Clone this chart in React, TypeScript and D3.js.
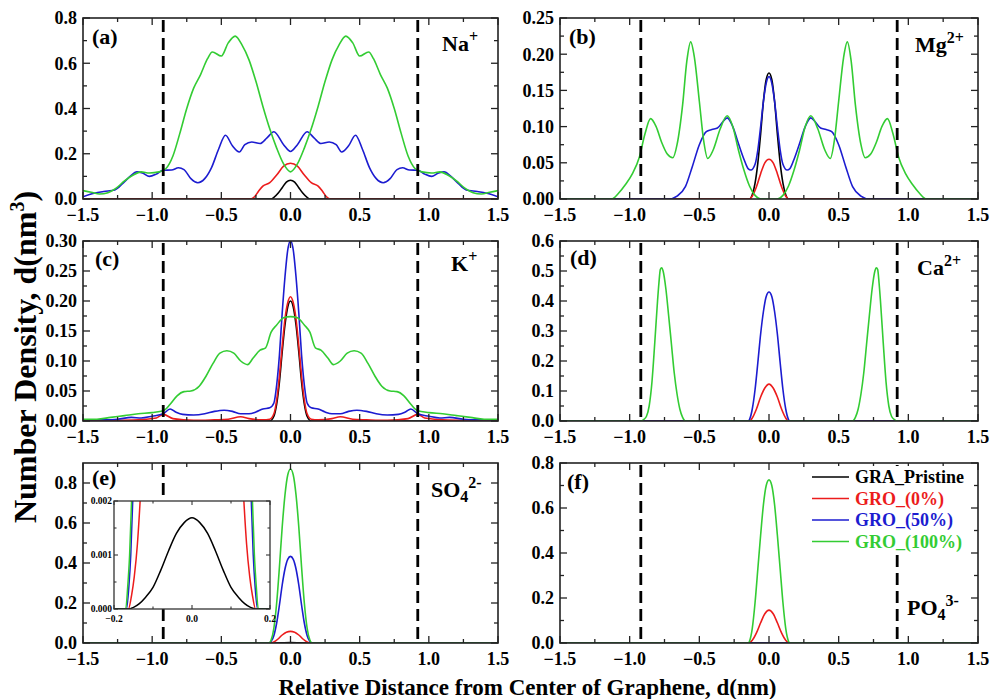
import React from "react";
import * as d3 from "d3";

type Pt = [number, number];

// ---------- shared axis values ----------
const X_MAJOR = [-1.5, -1, -0.5, 0, 0.5, 1, 1.5];
const X_MINOR = [-1.25, -0.75, -0.25, 0.25, 0.75, 1.25];
const DASHED_X = [-0.92, 0.92];
const SERIES_NAMES = ["GRA_Pristine", "GRO_(0%)", "GRO_(50%)", "GRO_(100%)"];
const SERIES_COLORS = ["#000000", "#ec1c1c", "#1c1cd0", "#33cc33"];

// ---------- (a) Na+ ----------
const naYTicks = [0, 0.2, 0.4, 0.6, 0.8];
const naBlack: Pt[] = [[-1.5, 0], [-0.14, 0], [-0.12, 0.007], [-0.09, 0.025], [-0.06, 0.05], [-0.03, 0.075], [0, 0.083], [0.03, 0.075], [0.06, 0.05], [0.09, 0.025], [0.12, 0.007], [0.14, 0], [1.5, 0]];
const naRed: Pt[] = [[-1.5, 0], [-0.29, 0], [-0.26, 0.01], [-0.23, 0.035], [-0.2, 0.057], [-0.15, 0.072], [-0.1, 0.106], [-0.05, 0.145], [0, 0.158], [0.05, 0.145], [0.1, 0.106], [0.15, 0.072], [0.2, 0.057], [0.23, 0.035], [0.26, 0.01], [0.29, 0], [1.5, 0]];
const naBlue: Pt[] = [[-1.5, 0.01], [-1.42, 0.025], [-1.35, 0.033], [-1.27, 0.04], [-1.21, 0.07], [-1.16, 0.1], [-1.11, 0.12], [-1.07, 0.115], [-1.02, 0.1], [-0.97, 0.11], [-0.92, 0.127], [-0.86, 0.128], [-0.81, 0.138], [-0.77, 0.13], [-0.72, 0.09], [-0.67, 0.072], [-0.62, 0.09], [-0.57, 0.14], [-0.52, 0.22], [-0.47, 0.282], [-0.42, 0.235], [-0.37, 0.208], [-0.33, 0.24], [-0.28, 0.252], [-0.22, 0.245], [-0.17, 0.27], [-0.12, 0.297], [-0.05, 0.24], [0, 0.21], [0.05, 0.24], [0.12, 0.297], [0.17, 0.27], [0.22, 0.245], [0.28, 0.252], [0.33, 0.24], [0.37, 0.208], [0.42, 0.235], [0.47, 0.282], [0.52, 0.22], [0.57, 0.14], [0.62, 0.09], [0.67, 0.072], [0.72, 0.09], [0.77, 0.13], [0.81, 0.138], [0.86, 0.128], [0.92, 0.127], [0.97, 0.11], [1.02, 0.1], [1.07, 0.115], [1.11, 0.12], [1.16, 0.1], [1.21, 0.07], [1.27, 0.04], [1.35, 0.033], [1.42, 0.025], [1.5, 0.01]];
const naGreen: Pt[] = [[-1.5, 0.037], [-1.44, 0.03], [-1.38, 0.022], [-1.32, 0.028], [-1.26, 0.048], [-1.2, 0.08], [-1.14, 0.105], [-1.08, 0.12], [-1.02, 0.115], [-0.95, 0.12], [-0.9, 0.135], [-0.85, 0.19], [-0.8, 0.29], [-0.75, 0.4], [-0.7, 0.49], [-0.65, 0.55], [-0.6, 0.62], [-0.565, 0.65], [-0.5, 0.632], [-0.45, 0.69], [-0.4, 0.72], [-0.35, 0.68], [-0.3, 0.615], [-0.25, 0.52], [-0.2, 0.41], [-0.15, 0.31], [-0.1, 0.225], [-0.05, 0.155], [0, 0.12], [0.05, 0.155], [0.1, 0.225], [0.15, 0.31], [0.2, 0.41], [0.25, 0.52], [0.3, 0.615], [0.35, 0.68], [0.4, 0.72], [0.45, 0.69], [0.5, 0.632], [0.565, 0.65], [0.6, 0.62], [0.65, 0.55], [0.7, 0.49], [0.75, 0.4], [0.8, 0.29], [0.85, 0.19], [0.9, 0.135], [0.95, 0.12], [1.02, 0.115], [1.08, 0.12], [1.14, 0.105], [1.2, 0.08], [1.26, 0.048], [1.32, 0.028], [1.38, 0.022], [1.44, 0.03], [1.5, 0.037]];

// ---------- (b) Mg2+ ----------
const mgYTicks = [0, 0.05, 0.1, 0.15, 0.2, 0.25];
const mgBlack: Pt[] = [[-1.5, 0], [-0.14, 0], [-0.12, 0.006], [-0.1, 0.022], [-0.08, 0.05], [-0.06, 0.09], [-0.04, 0.135], [-0.02, 0.165], [0, 0.174], [0.02, 0.165], [0.04, 0.135], [0.06, 0.09], [0.08, 0.05], [0.1, 0.022], [0.12, 0.006], [0.14, 0], [1.5, 0]];
const mgRed: Pt[] = [[-1.5, 0], [-0.14, 0], [-0.12, 0.004], [-0.09, 0.017], [-0.06, 0.035], [-0.03, 0.05], [0, 0.055], [0.03, 0.05], [0.06, 0.035], [0.09, 0.017], [0.12, 0.004], [0.14, 0], [1.5, 0]];
const mgBlue: Pt[] = [[-1.5, 0], [-0.72, 0], [-0.66, 0.004], [-0.6, 0.017], [-0.55, 0.045], [-0.5, 0.075], [-0.45, 0.093], [-0.41, 0.096], [-0.37, 0.098], [-0.33, 0.107], [-0.3, 0.112], [-0.26, 0.1], [-0.22, 0.077], [-0.18, 0.055], [-0.15, 0.042], [-0.13, 0.04], [-0.1, 0.048], [-0.08, 0.068], [-0.06, 0.1], [-0.04, 0.135], [-0.02, 0.16], [0, 0.169], [0.02, 0.16], [0.04, 0.135], [0.06, 0.1], [0.08, 0.068], [0.1, 0.048], [0.13, 0.04], [0.15, 0.042], [0.18, 0.055], [0.22, 0.077], [0.26, 0.1], [0.3, 0.112], [0.33, 0.107], [0.37, 0.098], [0.41, 0.096], [0.45, 0.093], [0.5, 0.075], [0.55, 0.045], [0.6, 0.017], [0.66, 0.004], [0.72, 0], [1.5, 0]];
const mgGreen: Pt[] = [[-1.5, 0], [-1.13, 0], [-1.08, 0.008], [-1.03, 0.02], [-0.98, 0.035], [-0.93, 0.058], [-0.89, 0.09], [-0.85, 0.111], [-0.81, 0.1], [-0.77, 0.078], [-0.73, 0.062], [-0.69, 0.057], [-0.66, 0.075], [-0.62, 0.13], [-0.59, 0.19], [-0.562, 0.217], [-0.535, 0.195], [-0.5, 0.135], [-0.47, 0.082], [-0.44, 0.056], [-0.4, 0.068], [-0.35, 0.097], [-0.3, 0.115], [-0.26, 0.1], [-0.22, 0.068], [-0.18, 0.04], [-0.14, 0.018], [-0.1, 0.005], [-0.06, 0], [0.06, 0], [0.1, 0.005], [0.14, 0.018], [0.18, 0.04], [0.22, 0.068], [0.26, 0.1], [0.3, 0.115], [0.35, 0.097], [0.4, 0.068], [0.44, 0.056], [0.47, 0.082], [0.5, 0.135], [0.535, 0.195], [0.562, 0.217], [0.59, 0.19], [0.62, 0.13], [0.66, 0.075], [0.69, 0.057], [0.73, 0.062], [0.77, 0.078], [0.81, 0.1], [0.85, 0.111], [0.89, 0.09], [0.93, 0.058], [0.98, 0.035], [1.03, 0.02], [1.08, 0.008], [1.13, 0], [1.5, 0]];

// ---------- (c) K+ ----------
const kYTicks = [0, 0.05, 0.1, 0.15, 0.2, 0.25, 0.3];
const kBlack: Pt[] = [[-1.5, 0], [-0.15, 0], [-0.12, 0.008], [-0.1, 0.028], [-0.08, 0.065], [-0.06, 0.115], [-0.04, 0.16], [-0.02, 0.19], [0, 0.2], [0.02, 0.19], [0.04, 0.16], [0.06, 0.115], [0.08, 0.065], [0.1, 0.028], [0.12, 0.008], [0.15, 0], [1.5, 0]];
const kRed: Pt[] = [[-1.5, 0], [-1.1, 0.002], [-0.97, 0.005], [-0.92, 0.011], [-0.85, 0.004], [-0.7, 0.001], [-0.55, 0.002], [-0.45, 0.003], [-0.36, 0.007], [-0.3, 0.004], [-0.2, 0.002], [-0.15, 0.003], [-0.12, 0.012], [-0.1, 0.035], [-0.08, 0.075], [-0.06, 0.125], [-0.04, 0.17], [-0.02, 0.197], [0, 0.207], [0.02, 0.197], [0.04, 0.17], [0.06, 0.125], [0.08, 0.075], [0.1, 0.035], [0.12, 0.012], [0.15, 0.003], [0.2, 0.002], [0.3, 0.004], [0.36, 0.007], [0.45, 0.003], [0.55, 0.002], [0.7, 0.001], [0.85, 0.004], [0.92, 0.011], [0.97, 0.005], [1.1, 0.002], [1.5, 0]];
const kBlue: Pt[] = [[-1.5, 0.002], [-1.35, 0.002], [-1.25, 0.003], [-1.15, 0.006], [-1.08, 0.005], [-1.0, 0.008], [-0.92, 0.012], [-0.87, 0.02], [-0.83, 0.015], [-0.78, 0.011], [-0.7, 0.01], [-0.62, 0.012], [-0.55, 0.016], [-0.48, 0.018], [-0.42, 0.016], [-0.36, 0.012], [-0.3, 0.012], [-0.25, 0.015], [-0.2, 0.02], [-0.15, 0.022], [-0.12, 0.03], [-0.1, 0.06], [-0.08, 0.11], [-0.06, 0.18], [-0.04, 0.24], [-0.02, 0.285], [0, 0.3], [0.02, 0.285], [0.04, 0.24], [0.06, 0.18], [0.08, 0.11], [0.1, 0.06], [0.12, 0.03], [0.15, 0.022], [0.2, 0.02], [0.25, 0.015], [0.3, 0.012], [0.36, 0.012], [0.42, 0.016], [0.48, 0.018], [0.55, 0.016], [0.62, 0.012], [0.7, 0.01], [0.78, 0.011], [0.83, 0.015], [0.87, 0.02], [0.92, 0.012], [1.0, 0.008], [1.08, 0.005], [1.15, 0.006], [1.25, 0.003], [1.35, 0.002], [1.5, 0.002]];
const kGreen: Pt[] = [[-1.5, 0.003], [-1.4, 0.003], [-1.3, 0.006], [-1.2, 0.009], [-1.1, 0.012], [-1.0, 0.014], [-0.92, 0.017], [-0.87, 0.028], [-0.82, 0.042], [-0.77, 0.049], [-0.72, 0.05], [-0.66, 0.058], [-0.61, 0.075], [-0.56, 0.096], [-0.51, 0.113], [-0.46, 0.117], [-0.41, 0.113], [-0.36, 0.1], [-0.31, 0.094], [-0.27, 0.105], [-0.22, 0.118], [-0.18, 0.122], [-0.14, 0.148], [-0.1, 0.16], [-0.05, 0.172], [0, 0.174], [0.05, 0.172], [0.1, 0.16], [0.14, 0.148], [0.18, 0.122], [0.22, 0.118], [0.27, 0.105], [0.31, 0.094], [0.36, 0.1], [0.41, 0.113], [0.46, 0.117], [0.51, 0.113], [0.56, 0.096], [0.61, 0.075], [0.66, 0.058], [0.72, 0.05], [0.77, 0.049], [0.82, 0.042], [0.87, 0.028], [0.92, 0.017], [1.0, 0.014], [1.1, 0.012], [1.2, 0.009], [1.3, 0.006], [1.4, 0.003], [1.5, 0.003]];

// ---------- (d) Ca2+ ----------
const caYTicks = [0, 0.1, 0.2, 0.3, 0.4, 0.5, 0.6];
const caBlack: Pt[] = [[-1.5, 0], [1.5, 0]];
const caRed: Pt[] = [[-1.5, 0], [-0.14, 0], [-0.12, 0.01], [-0.09, 0.04], [-0.06, 0.08], [-0.03, 0.11], [0, 0.123], [0.03, 0.11], [0.06, 0.08], [0.09, 0.04], [0.12, 0.01], [0.14, 0], [1.5, 0]];
const caBlue: Pt[] = [[-1.5, 0], [-0.15, 0], [-0.14, 0.005], [-0.12, 0.04], [-0.1, 0.105], [-0.08, 0.195], [-0.06, 0.29], [-0.04, 0.365], [-0.02, 0.415], [0, 0.43], [0.02, 0.415], [0.04, 0.365], [0.06, 0.29], [0.08, 0.195], [0.1, 0.105], [0.12, 0.04], [0.14, 0.005], [0.15, 0], [1.5, 0]];
const caGreen: Pt[] = [[-1.5, 0], [-0.92, 0], [-0.9, 0.005], [-0.88, 0.015], [-0.86, 0.05], [-0.84, 0.13], [-0.82, 0.26], [-0.8, 0.4], [-0.79, 0.46], [-0.78, 0.505], [-0.77, 0.511], [-0.76, 0.5], [-0.74, 0.44], [-0.72, 0.35], [-0.7, 0.255], [-0.68, 0.16], [-0.66, 0.09], [-0.64, 0.04], [-0.62, 0.012], [-0.6, 0], [0.6, 0], [0.62, 0.012], [0.64, 0.04], [0.66, 0.09], [0.68, 0.16], [0.7, 0.255], [0.72, 0.35], [0.74, 0.44], [0.76, 0.5], [0.77, 0.511], [0.78, 0.505], [0.79, 0.46], [0.8, 0.4], [0.82, 0.26], [0.84, 0.13], [0.86, 0.05], [0.88, 0.015], [0.9, 0.005], [0.92, 0], [1.5, 0]];

// ---------- (e) SO4 2- ----------
const so4YTicks = [0, 0.2, 0.4, 0.6, 0.8];
const so4Black: Pt[] = [[-1.5, 0], [-0.16, 0], [-0.12, 0.0002], [-0.06, 0.0011], [0, 0.0017], [0.06, 0.0011], [0.12, 0.0002], [0.16, 0], [1.5, 0]];
const so4Red: Pt[] = [[-1.5, 0], [-0.145, 0], [-0.12, 0.005], [-0.09, 0.02], [-0.06, 0.04], [-0.03, 0.054], [0, 0.058], [0.03, 0.054], [0.06, 0.04], [0.09, 0.02], [0.12, 0.005], [0.145, 0], [1.5, 0]];
const so4Blue: Pt[] = [[-1.5, 0], [-0.155, 0], [-0.14, 0.008], [-0.12, 0.038], [-0.1, 0.1], [-0.08, 0.19], [-0.06, 0.29], [-0.04, 0.37], [-0.02, 0.418], [0, 0.433], [0.02, 0.418], [0.04, 0.37], [0.06, 0.29], [0.08, 0.19], [0.1, 0.1], [0.12, 0.038], [0.14, 0.008], [0.155, 0], [1.5, 0]];
const so4Green: Pt[] = [[-1.5, 0], [-0.155, 0], [-0.14, 0.015], [-0.12, 0.075], [-0.1, 0.2], [-0.08, 0.38], [-0.06, 0.58], [-0.04, 0.74], [-0.02, 0.84], [0, 0.87], [0.02, 0.84], [0.04, 0.74], [0.06, 0.58], [0.08, 0.38], [0.1, 0.2], [0.12, 0.075], [0.14, 0.015], [0.155, 0], [1.5, 0]];

// inset of (e)
const insetXTicks = [-0.2, 0, 0.2];
const insetYTicks = [0, 0.001, 0.002];
const insetBlack: Pt[] = [[-0.2, 0], [-0.165, 0], [-0.15, 0.00003], [-0.135, 0.0001], [-0.12, 0.00021], [-0.1, 0.0004], [-0.08, 0.00072], [-0.06, 0.00108], [-0.04, 0.0014], [-0.02, 0.0016], [0, 0.00169], [0.02, 0.0016], [0.04, 0.0014], [0.06, 0.00108], [0.08, 0.00072], [0.1, 0.0004], [0.12, 0.00021], [0.135, 0.0001], [0.15, 0.00003], [0.165, 0], [0.2, 0]];
const insetRed: Pt[] = [[-0.2, 0], [-0.163, 0], [-0.155, 0.00025], [-0.148, 0.0006], [-0.14, 0.0012], [-0.133, 0.002], [-0.126, 0.003], [0, 0.01], [0.126, 0.003], [0.133, 0.002], [0.14, 0.0012], [0.148, 0.0006], [0.155, 0.00025], [0.163, 0], [0.2, 0]];
const insetBlue: Pt[] = [[-0.2, 0], [-0.168, 0], [-0.162, 0.0004], [-0.157, 0.001], [-0.152, 0.002], [-0.146, 0.0035], [0, 0.01], [0.146, 0.0035], [0.152, 0.002], [0.157, 0.001], [0.162, 0.0004], [0.168, 0], [0.2, 0]];
const insetGreen: Pt[] = [[-0.2, 0], [-0.17, 0], [-0.165, 0.0004], [-0.16, 0.001], [-0.155, 0.002], [-0.15, 0.0035], [0, 0.01], [0.15, 0.0035], [0.155, 0.002], [0.16, 0.001], [0.165, 0.0004], [0.17, 0], [0.2, 0]];

// ---------- (f) PO4 3- ----------
const po4YTicks = [0, 0.2, 0.4, 0.6, 0.8];
const po4Black: Pt[] = [[-1.5, 0], [1.5, 0]];
const po4Red: Pt[] = [[-1.5, 0], [-0.145, 0], [-0.12, 0.012], [-0.09, 0.045], [-0.06, 0.09], [-0.03, 0.13], [0, 0.146], [0.03, 0.13], [0.06, 0.09], [0.09, 0.045], [0.12, 0.012], [0.145, 0], [1.5, 0]];
const po4Blue: Pt[] = [[-1.5, 0], [1.5, 0]];
const po4Green: Pt[] = [[-1.5, 0], [-0.15, 0], [-0.14, 0.008], [-0.12, 0.065], [-0.1, 0.18], [-0.08, 0.33], [-0.06, 0.48], [-0.04, 0.615], [-0.02, 0.7], [0, 0.725], [0.02, 0.7], [0.04, 0.615], [0.06, 0.48], [0.08, 0.33], [0.1, 0.18], [0.12, 0.065], [0.14, 0.008], [0.15, 0], [1.5, 0]];

// ---------- layout ----------
const FONT = "'Liberation Serif', 'Times New Roman', serif";
const COLS = [[83, 498], [560, 978]];
const ROWS = [[18, 199], [241, 421], [463, 643]];

type IonPart = { t: string; k?: "sup" | "sub" };
type PanelSpec = {
  col: number; row: number; yMax: number; yTicks: number[]; fmt: string;
  letter: string; letterPos: [number, number];
  ion: IonPart[]; ionPos: [number, number];
  series: Pt[][];
};

const PANELS: PanelSpec[] = [
  { col: 0, row: 0, yMax: 0.8, yTicks: naYTicks, fmt: ".1f", letter: "(a)", letterPos: [92, 44], ion: [{ t: "Na" }, { t: "+", k: "sup" }], ionPos: [442, 51], series: [naBlack, naRed, naBlue, naGreen] },
  { col: 1, row: 0, yMax: 0.25, yTicks: mgYTicks, fmt: ".2f", letter: "(b)", letterPos: [569, 44], ion: [{ t: "Mg" }, { t: "2+", k: "sup" }], ionPos: [915, 52], series: [mgBlack, mgRed, mgBlue, mgGreen] },
  { col: 0, row: 1, yMax: 0.3, yTicks: kYTicks, fmt: ".2f", letter: "(c)", letterPos: [95, 266], ion: [{ t: "K" }, { t: "+", k: "sup" }], ionPos: [451, 271], series: [kBlack, kRed, kBlue, kGreen] },
  { col: 1, row: 1, yMax: 0.6, yTicks: caYTicks, fmt: ".1f", letter: "(d)", letterPos: [570, 265], ion: [{ t: "Ca" }, { t: "2+", k: "sup" }], ionPos: [917, 275], series: [caBlack, caRed, caBlue, caGreen] },
  { col: 0, row: 2, yMax: 0.9, yTicks: so4YTicks, fmt: ".1f", letter: "(e)", letterPos: [92, 485], ion: [{ t: "SO" }, { t: "4", k: "sub" }, { t: "2-", k: "sup" }], ionPos: [431, 497], series: [so4Black, so4Red, so4Blue, so4Green] },
  { col: 1, row: 2, yMax: 0.8, yTicks: po4YTicks, fmt: ".1f", letter: "(f)", letterPos: [567, 489], ion: [{ t: "PO" }, { t: "4", k: "sub" }, { t: "3-", k: "sup" }], ionPos: [907, 615], series: [po4Black, po4Red, po4Blue, po4Green] },
];

function midpoints(v: number[]): number[] {
  const out: number[] = [];
  for (let i = 0; i < v.length - 1; i++) out.push((v[i] + v[i + 1]) / 2);
  return out;
}

function Panel({ p, idx }: { p: PanelSpec; idx: number }) {
  const [x0, x1] = COLS[p.col];
  const [y0, y1] = ROWS[p.row];
  const x = d3.scaleLinear().domain([-1.5, 1.5]).range([x0, x1]);
  const y = d3.scaleLinear().domain([0, p.yMax]).range([y1, y0]);
  const line = d3.line<Pt>().x((d) => x(d[0])).y((d) => y(d[1])).curve(d3.curveMonotoneX);
  const fmt = d3.format(p.fmt);
  const yMinor = midpoints(p.yTicks);
  const clipId = `clip${idx}`;
  const MAJ = 7, MIN = 4;
  const tickStroke = "#222";
  return (
    <g>
      <defs>
        <clipPath id={clipId}>
          <rect x={x0} y={y0} width={x1 - x0} height={y1 - y0} />
        </clipPath>
      </defs>
      <g clipPath={`url(#${clipId})`}>
        {p.series.map((s, i) => (
          <path key={i} d={line(s) || ""} fill="none" stroke={SERIES_COLORS[i]} strokeWidth={1.6} />
        ))}
      </g>
      {DASHED_X.map((v) => (
        <line key={v} x1={x(v)} x2={x(v)} y1={y0 + 2} y2={y1} stroke="#000" strokeWidth={2.8} strokeDasharray="12,6" />
      ))}
      {X_MAJOR.map((v) => (
        <g key={"xM" + v}>
          <line x1={x(v)} x2={x(v)} y1={y1} y2={y1 - MAJ} stroke={tickStroke} strokeWidth={1.3} />
          <line x1={x(v)} x2={x(v)} y1={y0} y2={y0 + MAJ} stroke={tickStroke} strokeWidth={1.3} />
          <text x={x(v)} y={y1 + 22} textAnchor="middle" fontSize={18} fontWeight="bold" fontFamily={FONT}>{d3.format(".1f")(v)}</text>
        </g>
      ))}
      {X_MINOR.map((v) => (
        <g key={"xm" + v}>
          <line x1={x(v)} x2={x(v)} y1={y1} y2={y1 - MIN} stroke={tickStroke} strokeWidth={1.3} />
          <line x1={x(v)} x2={x(v)} y1={y0} y2={y0 + MIN} stroke={tickStroke} strokeWidth={1.3} />
        </g>
      ))}
      {p.yTicks.map((v) => (
        <g key={"yM" + v}>
          <line x1={x0} x2={x0 + MAJ} y1={y(v)} y2={y(v)} stroke={tickStroke} strokeWidth={1.3} />
          <line x1={x1} x2={x1 - MAJ} y1={y(v)} y2={y(v)} stroke={tickStroke} strokeWidth={1.3} />
          <text x={x0 - 6} y={y(v)} dy="0.35em" textAnchor="end" fontSize={18} fontWeight="bold" fontFamily={FONT}>{fmt(v)}</text>
        </g>
      ))}
      {yMinor.map((v) => (
        <g key={"ym" + v}>
          <line x1={x0} x2={x0 + MIN} y1={y(v)} y2={y(v)} stroke={tickStroke} strokeWidth={1.3} />
          <line x1={x1} x2={x1 - MIN} y1={y(v)} y2={y(v)} stroke={tickStroke} strokeWidth={1.3} />
        </g>
      ))}
      <rect x={x0} y={y0} width={x1 - x0} height={y1 - y0} fill="none" stroke="#222" strokeWidth={1.6} />
      <text x={p.letterPos[0]} y={p.letterPos[1]} fontSize={22} fontWeight="bold" fontFamily={FONT}>{p.letter}</text>
      <text x={p.ionPos[0]} y={p.ionPos[1]} fontSize={22} fontWeight="bold" fontFamily={FONT}>
        {p.ion.map((part, i) => (
          <tspan key={i} y={p.ionPos[1] + (part.k === "sup" ? -9 : part.k === "sub" ? 5 : 0)} fontSize={part.k ? 16 : 22}>{part.t}</tspan>
        ))}
      </text>
    </g>
  );
}

function Inset() {
  const bx0 = 114, bx1 = 270, by0 = 501, by1 = 609;
  const x = d3.scaleLinear().domain([-0.2, 0.2]).range([bx0, bx1]);
  const y = d3.scaleLinear().domain([0, 0.002]).range([by1, by0]);
  const line = d3.line<Pt>().x((d) => x(d[0])).y((d) => y(d[1])).curve(d3.curveMonotoneX);
  const series = [insetBlack, insetRed, insetBlue, insetGreen];
  const xMinor = midpoints(insetXTicks);
  const yMinor = midpoints(insetYTicks);
  const st = "#222";
  return (
    <g>
      <rect x={bx0} y={by0} width={bx1 - bx0} height={by1 - by0} fill="#fff" />
      <defs>
        <clipPath id="insetClip">
          <rect x={bx0} y={by0} width={bx1 - bx0} height={by1 - by0} />
        </clipPath>
      </defs>
      <g clipPath="url(#insetClip)">
        {[1, 2, 3, 0].map((i) => (
          <path key={i} d={line(series[i]) || ""} fill="none" stroke={SERIES_COLORS[i]} strokeWidth={1.5} />
        ))}
      </g>
      {insetXTicks.map((v) => (
        <g key={"ix" + v}>
          <line x1={x(v)} x2={x(v)} y1={by1} y2={by1 - 4} stroke={st} strokeWidth={1} />
          <line x1={x(v)} x2={x(v)} y1={by0} y2={by0 + 4} stroke={st} strokeWidth={1} />
          <text x={x(v)} y={by1 + 13} textAnchor="middle" fontSize={9.5} fontWeight="bold" fontFamily={FONT}>{d3.format(".1f")(v)}</text>
        </g>
      ))}
      {xMinor.map((v) => (
        <g key={"ixm" + v}>
          <line x1={x(v)} x2={x(v)} y1={by1} y2={by1 - 2.5} stroke={st} strokeWidth={1} />
          <line x1={x(v)} x2={x(v)} y1={by0} y2={by0 + 2.5} stroke={st} strokeWidth={1} />
        </g>
      ))}
      {insetYTicks.map((v) => (
        <g key={"iy" + v}>
          <line x1={bx0} x2={bx0 + 4} y1={y(v)} y2={y(v)} stroke={st} strokeWidth={1} />
          <line x1={bx1} x2={bx1 - 4} y1={y(v)} y2={y(v)} stroke={st} strokeWidth={1} />
          <text x={bx0 - 2} y={y(v)} dy="0.35em" textAnchor="end" fontSize={9.5} fontWeight="bold" fontFamily={FONT}>{d3.format(".3f")(v)}</text>
        </g>
      ))}
      {yMinor.map((v) => (
        <g key={"iym" + v}>
          <line x1={bx0} x2={bx0 + 2.5} y1={y(v)} y2={y(v)} stroke={st} strokeWidth={1} />
          <line x1={bx1} x2={bx1 - 2.5} y1={y(v)} y2={y(v)} stroke={st} strokeWidth={1} />
        </g>
      ))}
      <rect x={bx0} y={by0} width={bx1 - bx0} height={by1 - by0} fill="none" stroke="#333" strokeWidth={1.3} />
    </g>
  );
}

function Legend() {
  const rows = [483, 504.5, 526, 547.5];
  return (
    <g>
      <rect x={806} y={466} width={162} height={86} fill="#fff" />
      {SERIES_NAMES.map((name, i) => (
        <g key={name}>
          <line x1={812} x2={849} y1={rows[i] - 6} y2={rows[i] - 6} stroke={SERIES_COLORS[i]} strokeWidth={1.6} />
          <text x={855} y={rows[i]} fontSize={18} fontWeight="bold" fontFamily={FONT} fill={SERIES_COLORS[i]}>{name}</text>
        </g>
      ))}
    </g>
  );
}

export default function App() {
  return (
    <svg width={990} height={699} style={{ position: "absolute", left: 0, top: 0, background: "#fff" }}>
      <rect x={0} y={0} width={990} height={699} fill="#fff" />
      {PANELS.map((p, i) => (
        <Panel key={i} p={p} idx={i} />
      ))}
      <Inset />
      <Legend />
      <text transform="translate(36,357) rotate(-90)" textAnchor="middle" fontSize={32} fontWeight="bold" fontFamily={FONT}>
        Number Density, d(nm<tspan dy={-12} fontSize={20}>3</tspan><tspan dy={12}>)</tspan>
      </text>
      <text x={527.5} y={695} textAnchor="middle" fontSize={23} fontWeight="bold" fontFamily={FONT}>
        Relative Distance from Center of Graphene, d(nm)
      </text>
    </svg>
  );
}
